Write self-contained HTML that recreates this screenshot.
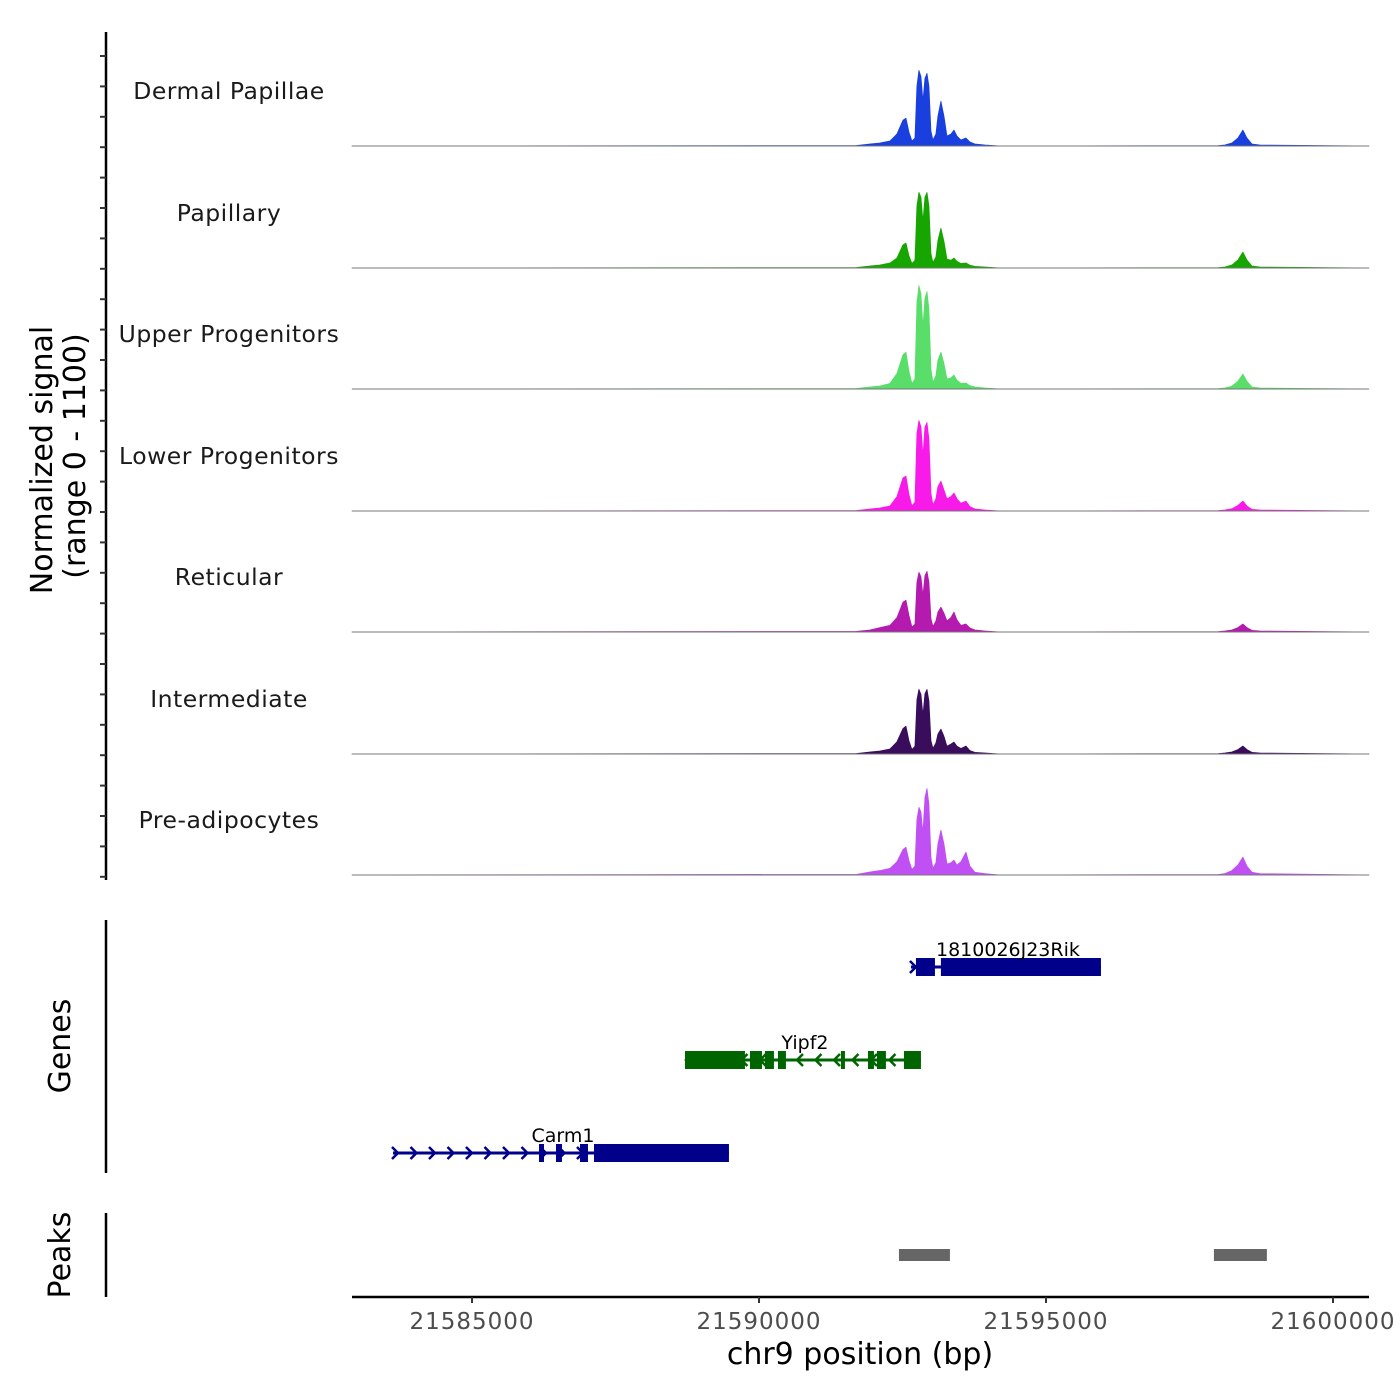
<!DOCTYPE html>
<html><head><meta charset="utf-8"><style>
html,body{margin:0;padding:0;background:#fff;}
svg{display:block;font-family:"DejaVu Sans","Liberation Sans",sans-serif;}
</style></head><body>
<svg id="chart" width="1400" height="1400" viewBox="0 0 1400 1400" xmlns="http://www.w3.org/2000/svg"></svg>
<script>
// ---- data ----
const regionStart = 21582909, regionEnd = 21600627;
const xTicks = [21585000, 21590000, 21595000, 21600000];
const trackNames = ["Dermal Papillae","Papillary","Upper Progenitors","Lower Progenitors","Reticular","Intermediate","Pre-adipocytes"];
const trackColors = ["#1a3fdf","#17a500","#5ade6a","#f81ae8","#b51aae","#3a0c5c","#c150f4"];
const binPos = [21582909,21591700,21591933,21592107,21592281,21592403,21592508,21592560,21592612,21592664,21592717,21592751,21592786,21592821,21592856,21592891,21592926,21592960,21592995,21593030,21593082,21593117,21593169,21593222,21593274,21593343,21593396,21593448,21593518,21593605,21593674,21593761,21593936,21594197,21598000,21598116,21598238,21598343,21598430,21598500,21598587,21598726,21600627];
const sigDermal = [0,4,18,27,45,108,234,252,126,45,72,540,684,630,405,612,657,540,135,54,108,270,405,270,90,108,144,90,54,72,36,18,9,0,3,9,27,72,144,72,18,9,0];
const sigPapillary = [0,4,18,27,45,90,210,225,110,40,70,560,684,640,420,640,684,560,130,50,100,250,360,240,80,70,90,60,40,45,25,15,9,0,3,9,27,72,144,72,18,9,0];
const sigUpper = [0,4,18,27,50,140,310,333,160,50,90,780,936,860,560,820,882,720,180,60,120,260,333,230,90,100,126,80,50,54,30,18,9,0,3,9,25,70,135,70,18,9,0];
const sigLower = [0,4,18,27,45,130,300,315,150,45,80,700,819,760,500,760,801,650,160,55,110,220,270,190,110,130,162,110,70,90,40,18,9,0,3,9,20,50,90,45,15,9,0];
const sigReticular = [0,5,18,40,60,130,270,288,150,45,70,450,540,500,330,510,549,450,120,50,100,180,225,170,100,130,180,110,60,72,36,18,9,0,3,9,18,40,72,40,15,9,0];
const sigIntermediate = [0,4,18,27,45,110,230,252,120,40,70,490,585,540,350,545,585,480,120,50,100,180,225,160,70,90,108,70,50,72,30,15,9,0,3,9,18,40,72,40,15,9,0];
const sigPre = [0,6,27,40,60,120,230,252,130,50,80,500,612,570,380,700,783,640,160,60,110,280,405,280,100,110,135,90,120,207,80,25,12,0,4,12,40,90,162,80,25,12,0];
const signals = [sigDermal,sigPapillary,sigUpper,sigLower,sigReticular,sigIntermediate,sigPre];
const yMax = 1100;
const geneNames = ["1810026J23Rik","Yipf2","Carm1"];
const geneStrand = ["+","-","+"];
const geneColors = ["#00008b","#006400","#00008b"];
const geneStart = [21592647,21588710,21583623];
const geneEnd = [21595957,21592821,21589476];
const geneExons = [
  [[21592734,21593065],[21593169,21595957]],
  [[21588710,21589755],[21589842,21590051],[21590103,21590260],[21590330,21590469],[21591427,21591497],[21591898,21592002],[21592055,21592211],[21592525,21592821]],
  [[21586167,21586254],[21586463,21586567],[21586881,21587020],[21587125,21589476]]
];
const peakStart = [21592438,21597925];
const peakEnd = [21593326,21598848];

// ---- layout ----
const X0 = 352, X1 = 1369;
const baselines = [146,268,389,511,632,754,875];
const trackH = 121.5;
const geneRows = [967,1060,1153];
const NS = "http://www.w3.org/2000/svg";
const svg = document.getElementById("chart");
function xs(bp){ return X0 + (bp - regionStart) / (regionEnd - regionStart) * (X1 - X0); }
function ys(v, base){ return base - v / yMax * trackH; }
function mk(tag, attrs, parent){ const e = document.createElementNS(NS, tag); for (const k in attrs) e.setAttribute(k, attrs[k]); (parent||svg).appendChild(e); return e; }

let ax = mk("line",{x1:106,y1:32,x2:106,y2:880,stroke:"#000","stroke-width":2.5});


for (let y = 56; y <= 878; y += 30.4) {
  let t = mk("line",{x1:100,y1:y,x2:106,y2:y,stroke:"#333","stroke-width":2});
  
  
}
let yt = mk("text",{x:0,y:0,"font-size":30,"text-anchor":"middle",transform:"translate(52,460) rotate(-90)",fill:"#000"});


yt.textContent = "Normalized signal";
let yt2 = mk("text",{x:0,y:0,"font-size":30,"text-anchor":"middle",transform:"translate(85,456) rotate(-90)",fill:"#000"});


yt2.textContent = "(range 0 - 1100)";

signals.forEach((sig, ti) => {
  const base = baselines[ti];
  const g = mk("g",{});
  
  
  let d = "M" + xs(binPos[0]) + "," + base;
  sig.forEach((v, i) => { d += " L" + xs(binPos[i]).toFixed(2) + "," + ys(v, base).toFixed(2); });
  d += " L" + xs(binPos[binPos.length-1]) + "," + base + " Z";
  const p = mk("path",{d:d,fill:trackColors[ti],stroke:trackColors[ti],"stroke-width":0.8,"stroke-linejoin":"round"}, g);
  
  
  const bl = mk("line",{x1:X0,y1:base,x2:X1,y2:base,stroke:"#777","stroke-width":1}, g);
  
  
  const lb = mk("text",{x:229,y:base-47,"font-size":23.5,"text-anchor":"middle",fill:"#1a1a1a","letter-spacing":"0.5"}, g);
  
  
  lb.textContent = trackNames[ti];
});

let ga = mk("line",{x1:106,y1:920,x2:106,y2:1173,stroke:"#000","stroke-width":2.5});


let gt = mk("text",{x:0,y:0,"font-size":30,"text-anchor":"middle",transform:"translate(70,1046) rotate(-90)"});


gt.textContent = "Genes";
geneNames.forEach((name, gi) => {
  const y = geneRows[gi], col = geneColors[gi];
  const g = mk("g",{});
  
  
  const xa = xs(geneStart[gi]), xb = xs(geneEnd[gi]);
  const ln = mk("line",{x1:xa,y1:y,x2:xb,y2:y,stroke:col,"stroke-width":3}, g);
  
  
  for (let x = xa + 3; x < xb - 4; x += 18.5) {
    const dir = geneStrand[gi] === "+" ? 1 : -1;
    const a = mk("path",{d:"M"+(x-4*dir)+","+(y-6)+" L"+(x+2*dir)+","+y+" L"+(x-4*dir)+","+(y+6),fill:"none",stroke:col,"stroke-width":2.5}, g);
    
    
  }
  geneExons[gi].forEach(ex => {
    const r = mk("rect",{x:xs(ex[0]),y:y-9,width:Math.max(3,xs(ex[1])-xs(ex[0])),height:18,fill:col}, g);
    
    
  });
  const t = mk("text",{x:(xa+xb)/2+2,y:y-11,"font-size":19,"text-anchor":"middle",fill:"#000"}, g);
  
  
  t.textContent = name;
});

let pa = mk("line",{x1:106,y1:1213,x2:106,y2:1297,stroke:"#000","stroke-width":2.5});


let pt = mk("text",{x:0,y:0,"font-size":30,"text-anchor":"middle",transform:"translate(70,1255) rotate(-90)"});


pt.textContent = "Peaks";
peakStart.forEach((s, i) => {
  const r = mk("rect",{x:xs(s),y:1249,width:xs(peakEnd[i])-xs(s),height:12,fill:"#666"});
  
  
});

let xa = mk("line",{x1:X0,y1:1297,x2:X1,y2:1297,stroke:"#000","stroke-width":2.5});


xTicks.forEach(v => {
  const x = xs(v);
  const t = mk("line",{x1:x,y1:1297,x2:x,y2:1303,stroke:"#333","stroke-width":2});
  
  
  const l = mk("text",{x:x,y:1329,"font-size":23,"text-anchor":"middle",fill:"#4d4d4d","letter-spacing":"1"});
  
  
  l.textContent = v;
});
let xt = mk("text",{x:860,y:1364,"font-size":30,"text-anchor":"middle",fill:"#000"});


xt.textContent = "chr9 position (bp)";
</script>
</body></html>
